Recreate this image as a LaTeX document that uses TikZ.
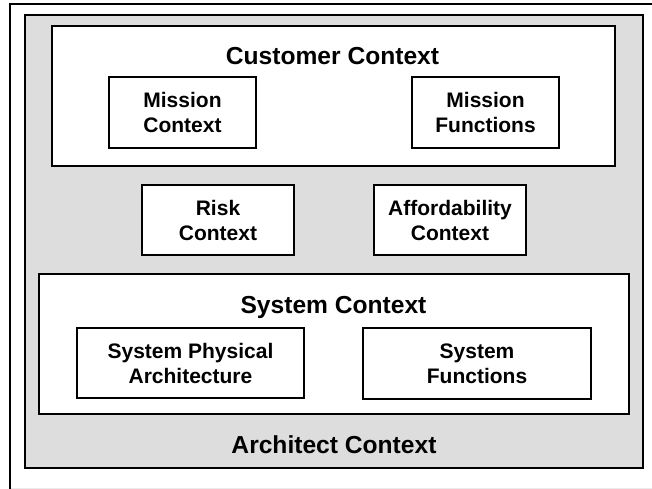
\documentclass[tikz,border=0pt]{standalone}
\usepackage{fontspec}
\setmainfont{Liberation Sans}
\definecolor{archgray}{RGB}{221,221,221}
\definecolor{faint}{RGB}{235,235,235}
\begin{document}
\begin{tikzpicture}[x=1bp,y=-1bp,
  frameline/.style={line width=2bp, black},
  graybox/.style={draw=black, line width=1.5bp, fill=archgray, rectangle, inner sep=0pt, outer sep=0pt},
  ctxbox/.style={draw=black, line width=1.8bp, fill=white, rectangle, inner sep=0pt, outer sep=0pt},
  inbox/.style={draw=black, line width=1.2bp, fill=white, rectangle, inner sep=0pt, outer sep=0pt, align=center,
    font=\bfseries\fontsize{21bp}{25bp}\selectfont},
  titletext/.style={anchor=base, inner sep=0pt, font=\bfseries\fontsize{24.6bp}{28bp}\selectfont}
]
\useasboundingbox[fill=white] (0,0) rectangle (652,489);
% outer frame (only left and top edges visible)
\coordinate (fbl) at (10,489);
\coordinate (ftl) at (10,4);
\coordinate (ftr) at (652,4);
\draw[frameline] (fbl) -- (ftl) -- (ftr);
\coordinate (bl) at (11,488);
\coordinate (br) at (652,488);
\draw[faint, line width=1bp] (bl) -- (br);
% architect context
\node[graybox, minimum width=618bp, minimum height=453bp] (arch) at (334,241.5) {};
% customer context
\node[ctxbox, minimum width=563bp, minimum height=140bp] (cust) at (333.5,96) {};
\node[titletext] (custt) at (332.5,65) {Customer Context};
\node[inbox, minimum width=147bp, minimum height=71bp] (mc) at (182.5,112.5) {Mission\\Context};
\node[inbox, minimum width=147bp, minimum height=71bp] (mf) at (485.5,112.5) {Mission\\Functions};
% middle
\node[inbox, minimum width=152bp, minimum height=70bp] (risk) at (218,220) {Risk\\Context};
\node[inbox, minimum width=152bp, minimum height=70bp] (aff) at (450,220) {Affordability\\Context};
% system context
\node[ctxbox, minimum width=590bp, minimum height=140bp] (sys) at (334,344) {};
\node[titletext] (syst) at (333.5,313) {System Context};
\node[inbox, minimum width=227bp, minimum height=70bp] (spa) at (190.5,363) {System Physical\\Architecture};
\node[inbox, minimum width=228bp, minimum height=71bp] (sf) at (477,363.5) {System\\Functions};
% architect title
\node[titletext] (archt) at (334,453) {Architect Context};
\end{tikzpicture}
\end{document}
